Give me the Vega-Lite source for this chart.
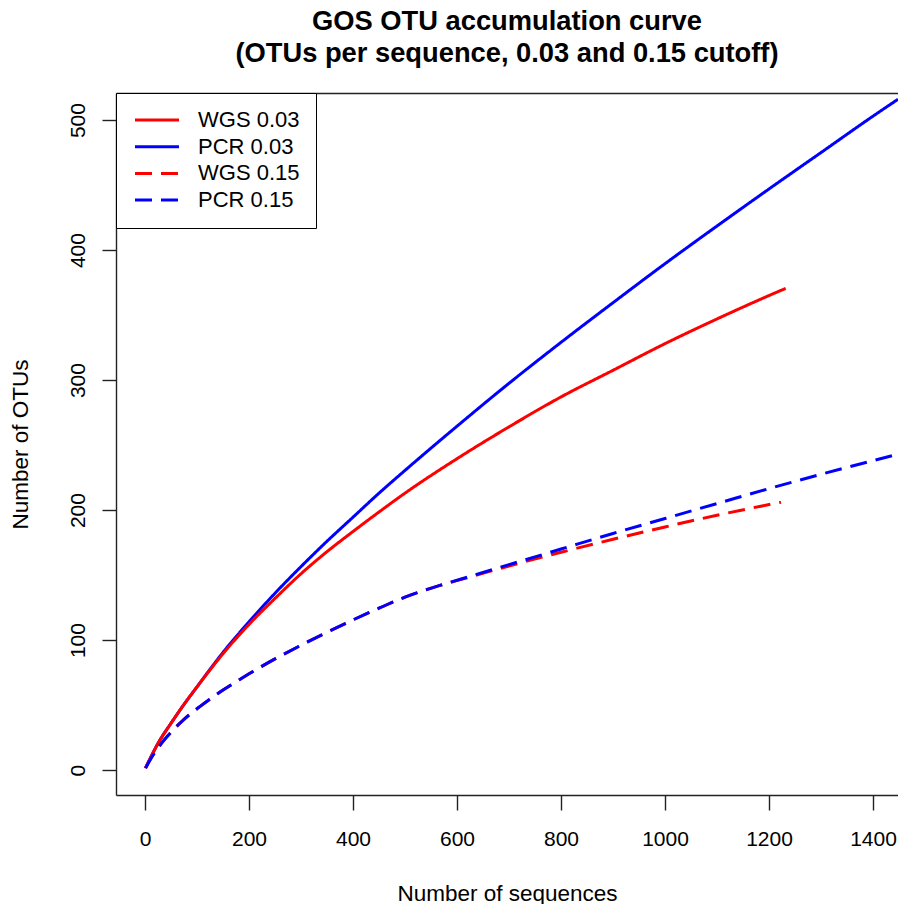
{
  "$schema": "https://vega.github.io/schema/vega-lite/v6.json",
  "width": 782,
  "height": 702,
  "autosize": {"type": "none"},
  "padding": {"left": 116, "top": 93, "right": 0, "bottom": 109},
  "background": "white",
  "config": {"view": {"stroke": null}, "font": "Liberation Sans"},
  "title": {
    "text": ["GOS OTU accumulation curve", "(OTUs per sequence, 0.03 and 0.15 cutoff)"],
    "fontSize": 27.3,
    "fontWeight": "bold",
    "font": "Liberation Sans",
    "lineHeight": 32,
    "anchor": "middle",
    "color": "black",
    "offset": 25
  },
  "data": {
    "values": [
      {"series": "PCR 0.03", "x": 1, "y": 1.5},
      {"series": "PCR 0.03", "x": 10, "y": 9},
      {"series": "PCR 0.03", "x": 25, "y": 20.5},
      {"series": "PCR 0.03", "x": 50, "y": 36},
      {"series": "PCR 0.03", "x": 75, "y": 50.5},
      {"series": "PCR 0.03", "x": 100, "y": 64},
      {"series": "PCR 0.03", "x": 125, "y": 77.5},
      {"series": "PCR 0.03", "x": 150, "y": 90.5},
      {"series": "PCR 0.03", "x": 200, "y": 114},
      {"series": "PCR 0.03", "x": 250, "y": 136},
      {"series": "PCR 0.03", "x": 300, "y": 156.5},
      {"series": "PCR 0.03", "x": 350, "y": 176},
      {"series": "PCR 0.03", "x": 400, "y": 194.5},
      {"series": "PCR 0.03", "x": 450, "y": 213},
      {"series": "PCR 0.03", "x": 500, "y": 230.5},
      {"series": "PCR 0.03", "x": 600, "y": 264.5},
      {"series": "PCR 0.03", "x": 700, "y": 297.5},
      {"series": "PCR 0.03", "x": 800, "y": 329},
      {"series": "PCR 0.03", "x": 900, "y": 359.5},
      {"series": "PCR 0.03", "x": 1000, "y": 389.5},
      {"series": "PCR 0.03", "x": 1100, "y": 418.5},
      {"series": "PCR 0.03", "x": 1200, "y": 447},
      {"series": "PCR 0.03", "x": 1300, "y": 475},
      {"series": "PCR 0.03", "x": 1400, "y": 503},
      {"series": "PCR 0.03", "x": 1448, "y": 516},
      {"series": "WGS 0.03", "x": 1, "y": 1.5},
      {"series": "WGS 0.03", "x": 10, "y": 9},
      {"series": "WGS 0.03", "x": 25, "y": 20.5},
      {"series": "WGS 0.03", "x": 50, "y": 36},
      {"series": "WGS 0.03", "x": 75, "y": 50.5},
      {"series": "WGS 0.03", "x": 100, "y": 64},
      {"series": "WGS 0.03", "x": 125, "y": 77},
      {"series": "WGS 0.03", "x": 150, "y": 89.5},
      {"series": "WGS 0.03", "x": 200, "y": 112},
      {"series": "WGS 0.03", "x": 250, "y": 132},
      {"series": "WGS 0.03", "x": 300, "y": 151},
      {"series": "WGS 0.03", "x": 350, "y": 168},
      {"series": "WGS 0.03", "x": 400, "y": 183.5},
      {"series": "WGS 0.03", "x": 450, "y": 198.5},
      {"series": "WGS 0.03", "x": 500, "y": 213},
      {"series": "WGS 0.03", "x": 600, "y": 239.5},
      {"series": "WGS 0.03", "x": 700, "y": 264},
      {"series": "WGS 0.03", "x": 800, "y": 287},
      {"series": "WGS 0.03", "x": 900, "y": 307.5},
      {"series": "WGS 0.03", "x": 1000, "y": 328},
      {"series": "WGS 0.03", "x": 1100, "y": 347},
      {"series": "WGS 0.03", "x": 1200, "y": 365},
      {"series": "WGS 0.03", "x": 1232, "y": 370.5},
      {"series": "WGS 0.15", "x": 1, "y": 1.5},
      {"series": "WGS 0.15", "x": 10, "y": 8},
      {"series": "WGS 0.15", "x": 25, "y": 17},
      {"series": "WGS 0.15", "x": 50, "y": 29},
      {"series": "WGS 0.15", "x": 75, "y": 39},
      {"series": "WGS 0.15", "x": 106, "y": 49},
      {"series": "WGS 0.15", "x": 150, "y": 61.5},
      {"series": "WGS 0.15", "x": 200, "y": 74},
      {"series": "WGS 0.15", "x": 250, "y": 85.5},
      {"series": "WGS 0.15", "x": 300, "y": 96},
      {"series": "WGS 0.15", "x": 350, "y": 106},
      {"series": "WGS 0.15", "x": 400, "y": 115.5},
      {"series": "WGS 0.15", "x": 450, "y": 124.5},
      {"series": "WGS 0.15", "x": 500, "y": 133},
      {"series": "WGS 0.15", "x": 567, "y": 142},
      {"series": "WGS 0.15", "x": 625, "y": 148.5},
      {"series": "WGS 0.15", "x": 700, "y": 157},
      {"series": "WGS 0.15", "x": 800, "y": 167.5},
      {"series": "WGS 0.15", "x": 900, "y": 177.5},
      {"series": "WGS 0.15", "x": 1000, "y": 187},
      {"series": "WGS 0.15", "x": 1100, "y": 196},
      {"series": "WGS 0.15", "x": 1223, "y": 206},
      {"series": "PCR 0.15", "x": 1, "y": 1.5},
      {"series": "PCR 0.15", "x": 10, "y": 8},
      {"series": "PCR 0.15", "x": 25, "y": 17},
      {"series": "PCR 0.15", "x": 50, "y": 29},
      {"series": "PCR 0.15", "x": 75, "y": 39},
      {"series": "PCR 0.15", "x": 106, "y": 49},
      {"series": "PCR 0.15", "x": 150, "y": 61.5},
      {"series": "PCR 0.15", "x": 200, "y": 74},
      {"series": "PCR 0.15", "x": 250, "y": 85.5},
      {"series": "PCR 0.15", "x": 300, "y": 96},
      {"series": "PCR 0.15", "x": 350, "y": 106},
      {"series": "PCR 0.15", "x": 400, "y": 115.5},
      {"series": "PCR 0.15", "x": 450, "y": 124.5},
      {"series": "PCR 0.15", "x": 500, "y": 133},
      {"series": "PCR 0.15", "x": 567, "y": 142},
      {"series": "PCR 0.15", "x": 625, "y": 149},
      {"series": "PCR 0.15", "x": 700, "y": 158},
      {"series": "PCR 0.15", "x": 800, "y": 170},
      {"series": "PCR 0.15", "x": 900, "y": 182},
      {"series": "PCR 0.15", "x": 1000, "y": 193.5},
      {"series": "PCR 0.15", "x": 1100, "y": 205},
      {"series": "PCR 0.15", "x": 1200, "y": 216.5},
      {"series": "PCR 0.15", "x": 1300, "y": 227.5},
      {"series": "PCR 0.15", "x": 1448, "y": 243}
    ]
  },
  "resolve": {"axis": {"x": "independent"}},
  "layer": [
    {
      "mark": {"type": "line", "strokeWidth": 3, "clip": true, "interpolate": "monotone"},
      "encoding": {
        "x": {
          "field": "x",
          "type": "quantitative",
          "scale": {"domain": [-55.8, 1448], "nice": false, "zero": false},
          "axis": {
            "values": [0, 200, 400, 600, 800, 1000, 1200, 1400],
            "format": "d",
            "grid": false,
            "tickSize": 15,
            "tickColor": "#222",
            "tickWidth": 1.4,
            "domainColor": "#222",
            "domainWidth": 1.4,
            "labelFontSize": 21,
            "labelFont": "Liberation Sans",
            "labelColor": "black",
            "labelPadding": 18,
            "labelFlush": false,
            "labelOverlap": false,
            "title": "Number of sequences",
            "titleFont": "Liberation Sans",
            "titleFontSize": 22.5,
            "titleFontWeight": "normal",
            "titleColor": "black",
            "titleY": 105,
            "titleBaseline": "alphabetic"
          }
        },
        "y": {
          "field": "y",
          "type": "quantitative",
          "scale": {"domain": [-19.2, 520.8], "nice": false, "zero": false},
          "axis": {
            "values": [0, 100, 200, 300, 400, 500],
            "format": "d",
            "grid": false,
            "tickSize": 14,
            "tickColor": "#222",
            "tickWidth": 1.4,
            "domainColor": "#222",
            "domainWidth": 1.4,
            "labelFontSize": 21,
            "labelFont": "Liberation Sans",
            "labelColor": "black",
            "labelAngle": -90,
            "labelAlign": "center",
            "labelBaseline": "alphabetic",
            "labelPadding": 18,
            "labelFlush": false,
            "labelOverlap": false,
            "title": "Number of OTUs",
            "titleFont": "Liberation Sans",
            "titleFontSize": 22.5,
            "titleFontWeight": "normal",
            "titleColor": "black",
            "titleAngle": -90,
            "titleX": -89,
            "titleY": 351,
            "titleAlign": "center",
            "titleBaseline": "alphabetic"
          }
        },
        "color": {
          "field": "series",
          "type": "nominal",
          "scale": {"domain": ["WGS 0.03", "PCR 0.03", "WGS 0.15", "PCR 0.15"], "range": ["#FF0000", "#0000FF", "#FF0000", "#0000FF"]},
          "legend": {
            "title": null,
            "orient": "none",
            "legendX": 0,
            "legendY": 0,
            "strokeColor": "black",
            "fillColor": "white",
            "padding": 16,
            "labelFontSize": 22,
            "labelFont": "Liberation Sans",
            "labelColor": "black",
            "symbolType": "M-3,0L3,0",
            "symbolSize": 215,
            "symbolStrokeWidth": 3,
            "symbolOffset": 14,
            "labelOffset": 30,
            "rowPadding": 4.7
          }
        },
        "strokeDash": {
          "field": "series",
          "type": "nominal",
          "scale": {"domain": ["WGS 0.03", "PCR 0.03", "WGS 0.15", "PCR 0.15"], "range": [[1, 0], [1, 0], [17, 9], [17, 9]]},
          "legend": {
            "title": null,
            "orient": "none",
            "legendX": 0,
            "legendY": 0,
            "strokeColor": "black",
            "fillColor": "white",
            "padding": 16,
            "labelFontSize": 22,
            "labelFont": "Liberation Sans",
            "labelColor": "black",
            "symbolType": "M-3,0L3,0",
            "symbolSize": 215,
            "symbolStrokeWidth": 3,
            "symbolOffset": 14,
            "labelOffset": 30,
            "rowPadding": 4.7
          }
        }
      }
    },
    {
      "mark": {"type": "point", "opacity": 0},
      "encoding": {
        "x": {
          "field": "x",
          "type": "quantitative",
          "axis": {"orient": "top", "labels": false, "ticks": false, "title": null, "grid": false, "domain": true, "domainColor": "#222", "domainWidth": 1.4}
        }
      }
    }
  ]
}
